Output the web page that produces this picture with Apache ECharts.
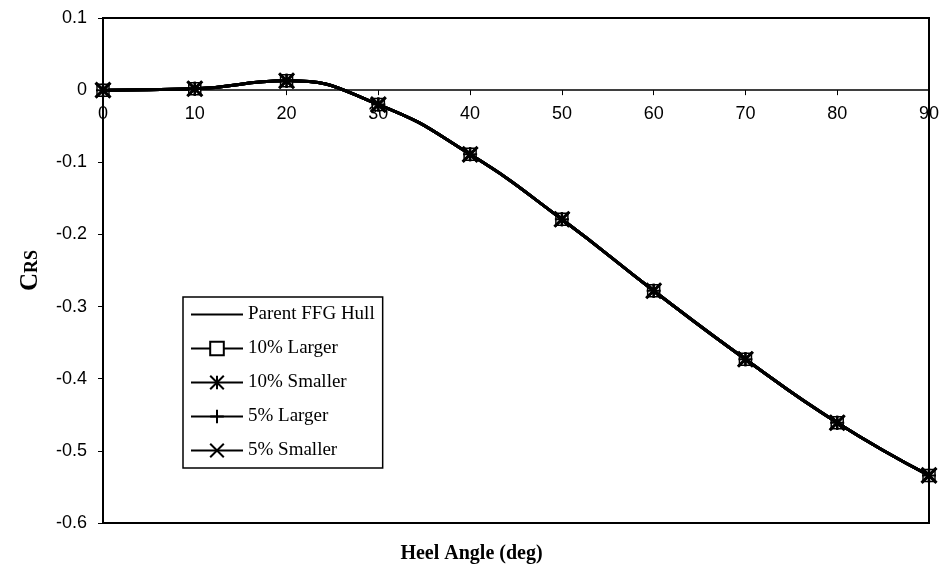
<!DOCTYPE html>
<html>
<head>
<meta charset="utf-8">
<script src="https://cdn.jsdelivr.net/npm/echarts@6/dist/echarts.min.js"></script>
<style>html,body{margin:0;padding:0;background:#fff;}#c{width:943px;height:572px;}</style>
</head>
<body>
<div id="c"></div>
<script>
var heelAngles = [0, 10, 20, 30, 40, 50, 60, 70, 80, 90];
var parentHull = [0, 0.002, 0.013, -0.02, -0.089, -0.179, -0.278, -0.373, -0.461, -0.534];
var larger10 = [0, 0.002, 0.013, -0.02, -0.089, -0.179, -0.278, -0.373, -0.461, -0.534];
var smaller10 = [0, 0.002, 0.013, -0.02, -0.089, -0.179, -0.278, -0.373, -0.461, -0.534];
var larger5 = [0, 0.002, 0.013, -0.02, -0.089, -0.179, -0.278, -0.373, -0.461, -0.534];
var smaller5 = [0, 0.002, 0.013, -0.02, -0.089, -0.179, -0.278, -0.373, -0.461, -0.534];
var seriesNames = ['Parent FFG Hull', '10% Larger', '10% Smaller', '5% Larger', '5% Smaller'];
var xTitle = 'Heel Angle (deg)';
var yMin = -0.6, yMax = 0.1;

function pairs(vals) { return heelAngles.map(function (a, i) { return [a, vals[i]]; }); }

var W = 943, H = 572;
var gridTop = 18, gridBottom = 49;
var gridH = H - gridTop - gridBottom;
// move the x axis up to the zero line
var xOffset = -(gridH * (0 - yMin) / (yMax - yMin));

var chart = echarts.init(document.getElementById('c'), null, { renderer: 'canvas' });
var sans = 'Liberation Sans, Arial, sans-serif';
var serif = 'Liberation Serif, Times New Roman, serif';

function mk(name, vals, symbol, size, fill, bw, z) {
  return {
    name: name, type: 'line', data: pairs(vals), smooth: true, z: z,
    symbol: symbol, symbolSize: size, showSymbol: symbol !== 'none',
    lineStyle: { color: '#000', width: 3 },
    itemStyle: { color: fill, borderColor: '#000', borderWidth: bw },
    emphasis: { disabled: true }
  };
}

chart.setOption({
  animation: false,
  backgroundColor: '#fff',
  grid: { left: 103, right: 14, top: gridTop, bottom: gridBottom, show: true, borderColor: '#000', borderWidth: 2,
    backgroundColor: 'transparent', containLabel: false, outerBoundsMode: 'none' },
  xAxis: {
    type: 'value', min: 0, max: 90, interval: 10, offset: xOffset,
    axisLine: { onZero: false, lineStyle: { color: '#000', width: 1.5 } },
    axisTick: { show: true, length: 5, lineStyle: { color: '#000' } },
    axisLabel: { fontFamily: sans, fontSize: 18, color: '#000', margin: 15 },
    splitLine: { show: false }
  },
  yAxis: {
    type: 'value', min: yMin, max: yMax, interval: 0.1,
    name: '{a|C}{b|RS}', nameLocation: 'middle', nameGap: 60, nameRotate: 90,
    nameTextStyle: { rich: {
      a: { fontFamily: serif, fontWeight: 'bold', fontSize: 25, color: '#000' },
      b: { fontFamily: serif, fontWeight: 'bold', fontSize: 18, color: '#000', verticalAlign: 'bottom', padding: [0,0,2,0] }
    } },
    axisLine: { show: true, lineStyle: { color: '#000', width: 2 } },
    axisTick: { show: true, length: 5, lineStyle: { color: '#000' } },
    axisLabel: { fontFamily: sans, fontSize: 18, color: '#000', margin: 16,
      formatter: function (v) { return Math.abs(v) < 1e-9 ? '0' : (+v).toFixed(1); } },
    splitLine: { show: false }
  },
  legend: {
    orient: 'vertical', left: 183, top: 297,
    backgroundColor: '#fff', borderColor: '#000', borderWidth: 1.5,
    padding: [8, 8, 8, 7], itemGap: 15, itemWidth: 52, itemHeight: 17,
    textStyle: { fontFamily: serif, fontSize: 19, color: '#000' },
    data: [
      { name: seriesNames[0], itemStyle: { opacity: 0 } },
      seriesNames[1], seriesNames[2], seriesNames[3], seriesNames[4]
    ]
  },
  graphic: [{
    type: 'text', left: 'center', top: 544, z: 10,
    style: { text: xTitle, font: 'bold 20px ' + serif, fill: '#000' }
  }],
  series: [
    mk(seriesNames[0], parentHull, 'none', 0, '#000', 2, 2),
    mk(seriesNames[1], larger10, 'rect', 12, '#fff', 1.5, 3),
    mk(seriesNames[2], smaller10, 'path://M0,0L10,10M10,0L0,10M5,0L5,10', 14, 'transparent', 2.5, 4),
    mk(seriesNames[3], larger5, 'path://M5,0L5,10M0,5L10,5', 14, 'transparent', 2, 5),
    mk(seriesNames[4], smaller5, 'path://M0,0L10,10M10,0L0,10', 15, 'transparent', 3, 6)
  ]
});
</script>
</body>
</html>
